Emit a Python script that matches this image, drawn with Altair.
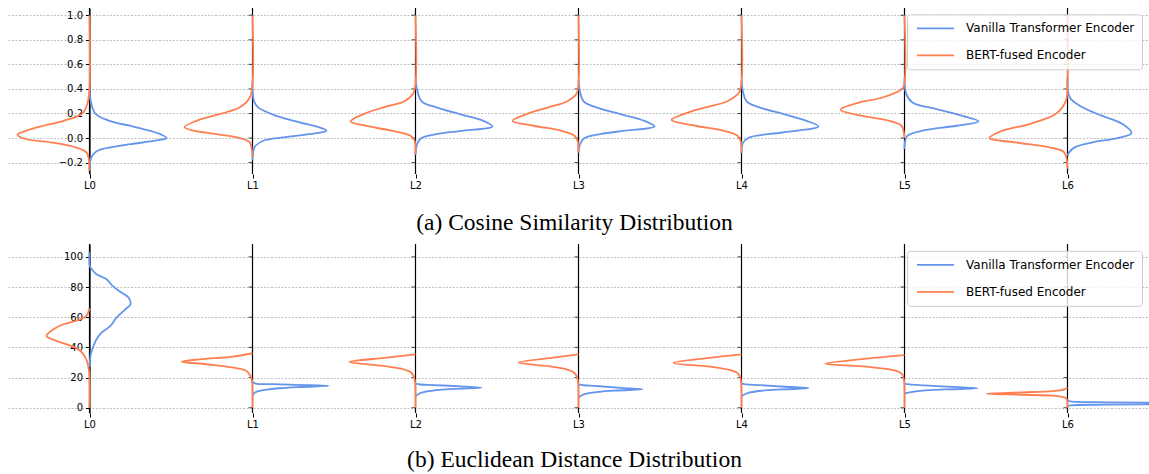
import altair as alt
import pandas as pd

LAYERS = ["L0", "L1", "L2", "L3", "L4", "L5", "L6"]
SERIES = ["Vanilla Transformer Encoder", "BERT-fused Encoder"]
COLORS = ["#6495ED", "#FF7F50"]
CAPTIONS = ["(a) Cosine Similarity Distribution", "(b) Euclidean Distance Distribution"]

COS_TICKS = [-0.2, 0.0, 0.2, 0.4, 0.6, 0.8, 1.0]
EUC_TICKS = [0, 20, 40, 60, 80, 100]

# (value, density) pairs, one list per layer L0..L6
COS_VANILLA = [
    [(0.40, 0), (0.30, 1.3), (0.20, 5.7), (0.14, 20), (0.10, 40), (0.06, 60), (0.027, 72), (0.0, 77),
     (-0.02, 67), (-0.05, 41), (-0.076, 21), (-0.10, 9), (-0.13, 4), (-0.17, 1.3), (-0.265, 0)],
    [(0.45, 0), (0.30, 1.5), (0.25, 5.7), (0.18, 24), (0.127, 47), (0.086, 67), (0.059, 74), (0.032, 57),
     (0.005, 31), (-0.022, 11), (-0.063, 3), (-0.10, 1), (-0.18, 0)],
    [(0.48, 0), (0.30, 6), (0.25, 21), (0.195, 44), (0.14, 68), (0.094, 77), (0.06, 48), (0.032, 21),
     (0.0, 6), (-0.05, 1.5), (-0.136, 0)],
    [(0.47, 0), (0.30, 5), (0.25, 18), (0.195, 42), (0.14, 66), (0.094, 76), (0.06, 46), (0.032, 22),
     (0.0, 6), (-0.05, 1.5), (-0.117, 0)],
    [(0.47, 0), (0.30, 5), (0.25, 18), (0.195, 42), (0.14, 65), (0.094, 77), (0.045, 41), (0.005, 8),
     (-0.04, 1.5), (-0.12, 0)],
    [(0.49, 0), (0.36, 1.7), (0.29, 8), (0.236, 32), (0.18, 58), (0.135, 74), (0.10, 52), (0.06, 18),
     (0.019, 3), (-0.03, 0.5), (-0.09, 0)],
    [(0.49, 0), (0.33, 2.3), (0.25, 15), (0.18, 35), (0.114, 55), (0.04, 64), (0.0, 50), (-0.036, 25),
     (-0.076, 7), (-0.117, 1.7), (-0.144, 0)],
]
COS_BERT = [
    [(1.0, 0), (0.40, 0), (0.30, 1.5), (0.20, 7), (0.14, 26), (0.10, 46), (0.06, 63), (0.027, 72),
     (-0.01, 63), (-0.035, 39), (-0.076, 14), (-0.117, 3), (-0.157, 1), (-0.267, 0)],
    [(1.0, 0), (0.44, 0), (0.33, 2.7), (0.25, 12.7), (0.195, 33), (0.14, 56), (0.09, 68), (0.06, 59),
     (0.032, 36), (0.0, 13), (-0.036, 2.7), (-0.076, 1), (-0.157, 0)],
    [(1.0, 0), (0.44, 0), (0.36, 2.5), (0.30, 11), (0.25, 32), (0.195, 52), (0.135, 65), (0.10, 50),
     (0.06, 24), (0.019, 5), (-0.02, 1), (-0.13, 0)],
    [(1.0, 0), (0.44, 0), (0.36, 2), (0.30, 11), (0.25, 30), (0.195, 52), (0.14, 66), (0.10, 45),
     (0.06, 18), (0.019, 4), (-0.02, 1), (-0.117, 0)],
    [(1.0, 0), (0.45, 0), (0.37, 2.5), (0.30, 14), (0.25, 36), (0.195, 58), (0.148, 70), (0.10, 46),
     (0.06, 18), (0.019, 4), (-0.02, 1), (-0.12, 0)],
    [(1.0, 0), (0.45, 0), (0.40, 2.3), (0.33, 22), (0.29, 45), (0.23, 64), (0.18, 42), (0.14, 15),
     (0.10, 3), (0.06, 1), (0.0, 0)],
    [(1.0, 0), (0.45, 0), (0.30, 1.7), (0.195, 12), (0.114, 38), (0.06, 65), (0.0, 78), (-0.036, 52),
     (-0.076, 18), (-0.117, 3.3), (-0.25, 0)],
]
EUC_VANILLA = [
    [(103, 0), (94, 0.3), (91.8, 2.3), (88.5, 7), (85.2, 17), (80.8, 23), (76.3, 32), (73, 39), (68.6, 41),
     (65.3, 36), (59.7, 27), (54.2, 21), (49.8, 12), (45.4, 7), (40.9, 4), (35.4, 1.3), (29.9, 0.3), (27, 0)],
    [(17, 0), (16, 3), (15.6, 20), (15.1, 45), (14.5, 76), (13.7, 45), (12.9, 26), (12.0, 14), (11.0, 6),
     (10.0, 2.3), (8.5, 0.5), (8.0, 0)],
    [(16, 0), (15.4, 5), (15.0, 18), (14.2, 45), (13.3, 66), (12.5, 40), (11.7, 21), (10, 6), (8.2, 1), (7.5, 0)],
    [(15.5, 0), (14.9, 5), (14.4, 18), (13.2, 42), (12.2, 64), (11.4, 38), (10.5, 20), (9, 6), (7.3, 1), (6.6, 0)],
    [(16, 0), (15.5, 5), (15.0, 18), (13.9, 44), (12.9, 67), (12.1, 40), (11.3, 21), (9.7, 6), (8.0, 1), (7.3, 0)],
    [(16, 0), (15.4, 5), (14.8, 20), (13.8, 48), (12.9, 73), (12.1, 40), (11.3, 18), (10.2, 5), (9.5, 0)],
    [(5.0, 0), (4.2, 3), (3.6, 40), (3.2, 100), (2.8, 150), (2.4, 100), (2.0, 40), (1.6, 3), (1.0, 0)],
]
EUC_BERT = [
    [(65.7, 0), (60.8, 3.3), (57.5, 14), (55.3, 26), (52, 36), (47.6, 43), (44.3, 33), (40.9, 18), (37.6, 9),
     (33.2, 4), (28.8, 1.7), (23.2, 0.3), (0, 0)],
    [(36.1, 0), (33.9, 19), (32.1, 53), (30.5, 71), (28.8, 46), (26.5, 19), (24.4, 6), (21, 2), (17.7, 0.5), (0, 0)],
    [(35.4, 0), (33.2, 29), (30.3, 66), (27.7, 32), (25.5, 12), (23.2, 4), (19.9, 1.3), (16, 0.3), (0, 0)],
    [(35.4, 0), (33.2, 25), (29.9, 60), (27.5, 30), (25.3, 11), (23, 4), (20, 1.3), (16, 0.3), (0, 0)],
    [(35.4, 0), (33.2, 30), (29.7, 68), (27.3, 32), (25.1, 12), (23, 4), (20, 1.3), (16, 0.3), (0, 0)],
    [(34.8, 0), (32.5, 38), (29.2, 79), (27.2, 38), (24.4, 8), (22.2, 2.3), (18, 0.5), (0, 0)],
    [(13.3, 0), (12.0, 4), (11.0, 15), (10.2, 45), (9.3, 81), (8.6, 45), (8.0, 15), (7.0, 4), (6.0, 1),
     (4, 0.2), (0, 0)],
]

DENS_PER_LAYER = 163.0   # density units spanning one layer gap
PLOT_W = 1141


def curves_frame(van, bert):
    rows = []
    for series, side, curves in [(SERIES[0], 1, van), (SERIES[1], -1, bert)]:
        for li, pts in enumerate(curves):
            for k, (v, d) in enumerate(pts):
                rows.append({"layer": li, "series": series, "idx": k, "value": v, "dens": d, "side": side})
    return pd.DataFrame(rows)


def panel(van, bert, ydomain, yticks, yfmt, height, caption, legend_y, title_offset):
    xscale = alt.Scale(domain=[-0.5, 6.5], nice=False, zero=False)
    yscale = alt.Scale(domain=ydomain, nice=False, zero=False)
    xaxis = alt.Axis(values=list(range(7)), labelExpr="'L' + datum.value", title=None, grid=False,
                     domain=False, ticks=True, tickSize=4, tickColor="black", tickWidth=1,
                     labelFontSize=10, labelFont="DejaVu Sans", labelColor="black", labelPadding=2)
    yaxis = alt.Axis(values=yticks, format=yfmt, title=None, offset=-PLOT_W / 14, grid=True,
                     gridDash=[2, 1.5], gridColor="#b0b0b0", gridWidth=0.8, domain=True,
                     domainColor="black", domainWidth=1.2, tickSize=4, tickColor="black", tickWidth=1,
                     labelFontSize=10, labelColor="black", labelFont="DejaVu Sans", labelPadding=3)

    layer_df = pd.DataFrame({"layer": list(range(len(LAYERS))), "name": LAYERS})
    tick_df = pd.DataFrame([{"layer": li, "value": t} for li in range(1, len(LAYERS)) for t in yticks])
    df = curves_frame(van, bert)

    rules = alt.Chart(layer_df).mark_rule(color="black", strokeWidth=1.2).encode(
        x=alt.X("layer:Q", scale=xscale, axis=xaxis),
        y=alt.value(0), y2=alt.value(height))
    ticks = alt.Chart(tick_df).mark_tick(orient="horizontal", size=4, thickness=1, color="black",
                                        xOffset=-2).encode(
        x=alt.X("layer:Q", scale=xscale, axis=xaxis),
        y=alt.Y("value:Q", scale=yscale, axis=yaxis))
    lines = alt.Chart(df).transform_calculate(
        xpos=f"datum.layer + datum.side * datum.dens / {DENS_PER_LAYER}"
    ).mark_line(interpolate="catmull-rom", strokeWidth=1.8, clip=True).encode(
        x=alt.X("xpos:Q", scale=xscale, axis=xaxis),
        y=alt.Y("value:Q", scale=yscale, axis=yaxis),
        color=alt.Color("series:N", scale=alt.Scale(domain=SERIES, range=COLORS),
                        legend=alt.Legend(orient="none", legendX=899, legendY=legend_y, title=None,
                                          symbolType="stroke", symbolSize=1369, symbolStrokeWidth=1.8,
                                          symbolOffset=2, clipHeight=14,
                                          labelFontSize=12, labelFont="DejaVu Sans", labelColor="black",
                                          labelOffset=11, labelLimit=0, padding=7,
                                          strokeColor="#cccccc",
                                          fillColor="rgba(255,255,255,0.8)", cornerRadius=3,
                                          rowPadding=13)),
        detail="layer:N",
        order="idx:Q")
    return alt.layer(rules, ticks, lines).properties(
        width=PLOT_W, height=height,
        title=alt.TitleParams(caption, orient="bottom", anchor="middle", font="Liberation Serif",
                              fontSize=23.5, fontWeight="normal", color="black", offset=title_offset,
                              baseline="top", dx=-4))


top = panel(COS_VANILLA, COS_BERT, [-0.293, 1.059], COS_TICKS, ".1f", 166, CAPTIONS[0], 6.3, 21)
bottom = panel(EUC_VANILLA, EUC_BERT, [-3.5, 108.5], EUC_TICKS, "d", 169, CAPTIONS[1], 6.8, 19)

chart = alt.vconcat(top, bottom, spacing=8).resolve_scale(
    x="independent", y="independent", color="independent"
).resolve_legend(color="independent").properties(
    padding={"left": 8, "top": 7, "right": 0, "bottom": 0},
    background="white"
).configure_view(stroke=None)

chart.save("out.html", embed_options={"renderer": "svg", "actions": False})
